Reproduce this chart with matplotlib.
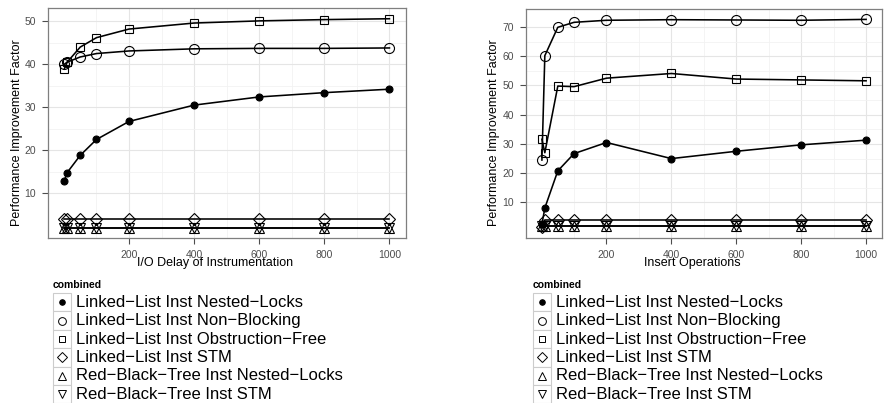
import numpy as np
import matplotlib
matplotlib.use("Agg")
import matplotlib.pyplot as plt
from matplotlib.lines import Line2D
from matplotlib.patches import Rectangle

plt.rcParams['font.family'] = ['Liberation Sans', 'DejaVu Sans']

# x values shared by both panels
x_vals = [1, 10, 50, 100, 200, 400, 600, 800, 1000]

# left panel: I/O delay
io_ll_nested = [12.9, 14.8, 18.8, 22.5, 26.7, 30.5, 32.4, 33.4, 34.2]
io_ll_nonblock = [40.0, 40.5, 41.7, 42.5, 43.1, 43.6, 43.7, 43.7, 43.8]
io_ll_obstr = [38.9, 40.5, 44.0, 46.2, 48.2, 49.6, 50.1, 50.4, 50.6]
io_ll_stm = [4.0, 4.0, 4.0, 4.0, 4.0, 4.0, 4.0, 4.0, 4.0]
io_rbt_nested = [2.0, 2.0, 2.0, 2.0, 2.0, 2.0, 2.0, 2.0, 2.0]
io_rbt_stm = [2.0, 2.0, 2.0, 2.0, 2.0, 2.0, 2.0, 2.0, 2.0]

# right panel: insert operations
ins_ll_nested = [2.5, 8.1, 20.8, 26.7, 30.5, 25.0, 27.5, 29.7, 31.3]
ins_ll_nonblock = [24.5, 60.2, 69.9, 71.6, 72.3, 72.5, 72.4, 72.3, 72.6]
ins_ll_obstr = [31.6, 27.0, 49.8, 49.6, 52.5, 54.1, 52.2, 51.9, 51.6]
ins_ll_stm = [1.5, 4.0, 4.0, 4.0, 4.0, 4.0, 4.0, 4.0, 4.0]
ins_rbt_nested = [2.1, 2.1, 2.1, 2.1, 2.1, 2.1, 2.1, 2.1, 2.1]
ins_rbt_stm = [2.1, 2.1, 2.1, 2.1, 2.1, 2.1, 2.1, 2.1, 2.1]

labels = ['Linked\u2212List Inst Nested\u2212Locks',
          'Linked\u2212List Inst Non\u2212Blocking',
          'Linked\u2212List Inst Obstruction\u2212Free',
          'Linked\u2212List Inst STM',
          'Red\u2212Black\u2212Tree Inst Nested\u2212Locks',
          'Red\u2212Black\u2212Tree Inst STM']

# marker, filled, size
styles = [('o', True, 5.0), ('o', False, 7.2), ('s', False, 6.2),
          ('D', False, 6.0), ('^', False, 7.0), ('v', False, 7.0)]

W, H = 884, 403
fig = plt.figure(figsize=(W / 100, H / 100), dpi=100)


def fx(px):
    return px / W


def fy(py):
    return 1 - py / H


def panel(rect, series, yticks, xlabel, xlab_px, ylab_px):
    x0, y0, x1, y1 = rect
    ax = fig.add_axes([fx(x0), fy(y1), fx(x1) - fx(x0), fy(y0) - fy(y1)])
    for ys, (m, filled, ms) in zip(series, styles):
        ax.plot(x_vals, ys, color='black', lw=1.15, zorder=3)
    for ys, (m, filled, ms) in zip(series, styles):
        ax.plot(x_vals, ys, ls='none', marker=m, ms=ms, mew=0.8,
                mec='black', mfc='black' if filled else 'none', zorder=4)
    allv = np.concatenate([np.array(s) for s in series])
    lo, hi = allv.min(), allv.max()
    pad = (hi - lo) * 0.05
    ax.set_ylim(lo - pad, hi + pad)
    xpad = (max(x_vals) - min(x_vals)) * 0.05
    ax.set_xlim(min(x_vals) - xpad, max(x_vals) + xpad)
    ax.set_xticks([200, 400, 600, 800, 1000])
    ax.set_xticks([100, 300, 500, 700, 900], minor=True)
    ax.set_yticks(yticks)
    ax.set_yticks([v + 5 for v in yticks[:-1]], minor=True)
    ax.grid(True, which='major', color='#e5e5e5', lw=0.8, zorder=0)
    ax.grid(True, which='minor', color='#f2f2f2', lw=0.6, zorder=0)
    ax.set_axisbelow(True)
    for s in ax.spines.values():
        s.set_color('#7f7f7f')
        s.set_linewidth(0.9)
    ax.tick_params(which='major', length=4.0, width=0.8, color='#4d4d4d',
                   labelcolor='#4d4d4d', labelsize=7.5, pad=4.5)
    ax.tick_params(which='minor', length=0)
    fig.text(fx(xlab_px), fy(263), xlabel, ha='center', va='center',
             fontsize=9)
    fig.text(fx(ylab_px), fy(133), 'Performance Improvement Factor',
             rotation=90, ha='center', va='center', fontsize=9)
    return ax


def legend(xbox):
    fig.text(fx(xbox), fy(285.5), 'combined', fontsize=7.5,
             fontweight='bold', ha='left', va='center')
    top = 293.0
    step = 18.4
    for i, (lab, (m, filled, ms)) in enumerate(zip(labels, styles)):
        yt = top + i * step
        fig.add_artist(Rectangle((fx(xbox), fy(yt + step)), 18 / W, step / H,
                                 transform=fig.transFigure, fc='white',
                                 ec='#cccccc', lw=0.8))
        cy = yt + step / 2
        lms = {'o': 4.0 if filled else 5.6, 's': 5.0, 'D': 5.0,
               '^': 6.0, 'v': 6.0}[m]
        fig.add_artist(Line2D([fx(xbox + 9)], [fy(cy)], marker=m, ms=lms,
                              mew=0.7, mec='black',
                              mfc='black' if filled else 'none',
                              transform=fig.transFigure))
        fig.text(fx(xbox + 23), fy(cy), lab, fontsize=12, ha='left',
                 va='center')


panel((48, 8.3, 405.7, 238),
      [io_ll_nested, io_ll_nonblock, io_ll_obstr, io_ll_stm,
       io_rbt_nested, io_rbt_stm],
      [10, 20, 30, 40, 50], 'I/O Delay of Instrumentation', 214.7, 16.7)
panel((525.7, 9, 882.3, 237.7),
      [ins_ll_nested, ins_ll_nonblock, ins_ll_obstr, ins_ll_stm,
       ins_rbt_nested, ins_rbt_stm],
      [10, 20, 30, 40, 50, 60, 70], 'Insert Operations', 692.8, 494.3)
legend(53)
legend(533)

fig.savefig('out.png', dpi=100)
